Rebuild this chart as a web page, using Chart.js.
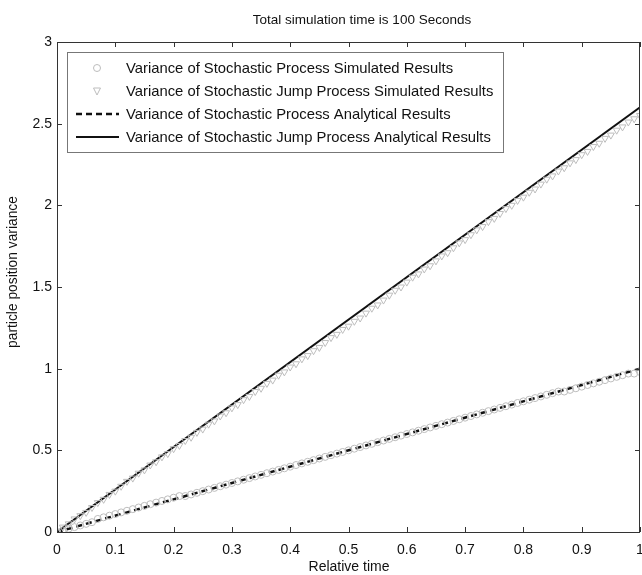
<!DOCTYPE html>
<html>
<head>
<meta charset="utf-8">
<script src="https://cdn.jsdelivr.net/npm/chart.js@4"></script>
<style>
  html, body { margin: 0; padding: 0; background: #fff; }
  #clip { width: 642px; height: 575px; overflow: hidden; }
  #wrap { width: 645px; height: 575px; position: relative; }
</style>
</head>
<body>
<div id="clip"><div id="wrap"><canvas id="simChart"></canvas></div></div>
<script>
// relative time of the simulated samples
let simTime = [
    0.00,0.01,0.02,0.03,0.04,0.05,0.06,0.07,0.08,0.09,
    0.10,0.11,0.12,0.13,0.14,0.15,0.16,0.17,0.18,0.19,
    0.20,0.21,0.22,0.23,0.24,0.25,0.26,0.27,0.28,0.29,
    0.30,0.31,0.32,0.33,0.34,0.35,0.36,0.37,0.38,0.39,
    0.40,0.41,0.42,0.43,0.44,0.45,0.46,0.47,0.48,0.49,
    0.50,0.51,0.52,0.53,0.54,0.55,0.56,0.57,0.58,0.59,
    0.60,0.61,0.62,0.63,0.64,0.65,0.66,0.67,0.68,0.69,
    0.70,0.71,0.72,0.73,0.74,0.75,0.76,0.77,0.78,0.79,
    0.80,0.81,0.82,0.83,0.84,0.85,0.86,0.87,0.88,0.89,
    0.90,0.91,0.92,0.93,0.94,0.95,0.96,0.97,0.98,0.99,
    1.00
]
// circles, near the dashed line
let stochSim = [
    0.00,0.01,0.02,0.03,0.04,0.05,0.06,0.08,0.09,0.10,
    0.11,0.12,0.13,0.14,0.15,0.16,0.17,0.18,0.19,0.20,
    0.21,0.22,0.22,0.23,0.24,0.25,0.26,0.27,0.28,0.29,
    0.30,0.31,0.32,0.33,0.34,0.35,0.36,0.37,0.38,0.39,
    0.40,0.41,0.42,0.43,0.44,0.45,0.46,0.47,0.48,0.49,
    0.50,0.51,0.52,0.53,0.54,0.55,0.56,0.57,0.58,0.59,
    0.60,0.61,0.62,0.63,0.64,0.65,0.66,0.67,0.68,0.69,
    0.70,0.71,0.72,0.73,0.74,0.75,0.76,0.77,0.78,0.79,
    0.80,0.81,0.82,0.83,0.84,0.85,0.86,0.86,0.87,0.88,
    0.89,0.90,0.91,0.92,0.93,0.94,0.95,0.96,0.97,0.97,
    0.98
]
// diamonds, near the solid line
let jumpSim = [
    0.00,0.03,0.05,0.08,0.10,0.12,0.15,0.18,0.20,0.23,
    0.25,0.28,0.31,0.33,0.36,0.38,0.41,0.43,0.46,0.48,
    0.51,0.53,0.56,0.58,0.61,0.63,0.66,0.68,0.71,0.73,
    0.76,0.78,0.81,0.83,0.86,0.88,0.91,0.93,0.96,0.98,
    1.01,1.03,1.06,1.08,1.11,1.13,1.16,1.19,1.21,1.24,
    1.26,1.29,1.31,1.34,1.37,1.39,1.42,1.45,1.48,1.50,
    1.53,1.56,1.58,1.61,1.63,1.66,1.69,1.71,1.74,1.77,
    1.79,1.82,1.85,1.87,1.90,1.92,1.95,1.98,2.00,2.03,
    2.05,2.08,2.10,2.13,2.16,2.18,2.21,2.23,2.26,2.28,
    2.31,2.33,2.36,2.38,2.41,2.43,2.46,2.48,2.51,2.53,
    2.55
]
// analytical results, end points
let lineTime      = [0, 1]
let stochAnalytic = [0, 1.0]
let jumpAnalytic  = [0, 2.6]

let legendLabels = [
    'Variance of Stochastic Process Simulated Results',
    'Variance of Stochastic Jump Process Simulated Results',
    'Variance of Stochastic Process Analytical Results',
    'Variance of Stochastic Jump Process Analytical Results'
]
let chartTitle = 'Total simulation time is 100 Seconds'
let xTitle = 'Relative time'
let yTitle = 'particle position variance'

const FONT = '"Liberation Sans", Arial, sans-serif';

function pairs(xs, ys){
    return xs.map((x, i) => ({x: x, y: ys[i]}));
}
function fmtTick(v){
    return String(+Number(v).toFixed(2));
}

// matlab-like frame, inward ticks, titles and boxed legend
const matlabFrame = {
    id: 'matlabFrame',
    afterDraw(chart){
        const ctx = chart.ctx;
        const a = chart.chartArea;
        const xs = chart.scales.x, ys = chart.scales.y;
        ctx.save();
        ctx.strokeStyle = '#333';
        ctx.lineWidth = 1;
        ctx.strokeRect(a.left + 0.5, a.top + 0.5, a.right - a.left - 1, a.bottom - a.top);
        ctx.beginPath();
        xs.ticks.forEach(t => {
            let px = Math.round(xs.getPixelForValue(t.value)) + 0.5;
            ctx.moveTo(px, a.bottom); ctx.lineTo(px, a.bottom - 5);
            ctx.moveTo(px, a.top); ctx.lineTo(px, a.top + 5);
        });
        ys.ticks.forEach(t => {
            let py = Math.round(ys.getPixelForValue(t.value)) + 0.5;
            ctx.moveTo(a.left, py); ctx.lineTo(a.left + 5, py);
            ctx.moveTo(a.right, py); ctx.lineTo(a.right - 5, py);
        });
        ctx.stroke();

        // title
        ctx.fillStyle = '#111';
        ctx.font = '13.5px ' + FONT;
        ctx.textAlign = 'center';
        ctx.textBaseline = 'middle';
        ctx.fillText(chartTitle, 362, 20);

        // y title
        ctx.save();
        ctx.translate(13, 272);
        ctx.rotate(-Math.PI / 2);
        ctx.font = '13.8px ' + FONT;
        ctx.fillText(yTitle, 0, 0);
        ctx.restore();

        // x title
        ctx.font = '14px ' + FONT;
        ctx.fillText(xTitle, 349, 567);

        // legend
        let bx = 67, by = 52, bw = 436, bh = 100;
        ctx.fillStyle = '#fff';
        ctx.fillRect(bx, by, bw, bh);
        ctx.strokeStyle = '#777';
        ctx.strokeRect(bx + 0.5, by + 0.5, bw, bh);
        ctx.font = '14.8px ' + FONT;
        ctx.textAlign = 'left';
        let rowY = [68, 91, 114, 137];
        chart.data.datasets.forEach((ds, i) => {
            let y = rowY[i];
            if(ds.showLine === false){
                ctx.strokeStyle = ds.borderColor;
                ctx.lineWidth = 1;
                ctx.beginPath();
                if(ds.pointStyle === 'circle'){
                    ctx.arc(97, y, 3.5, 0, Math.PI * 2);
                } else {
                    ctx.moveTo(93.5, y - 3); ctx.lineTo(100.5, y - 3); ctx.lineTo(97, y + 4); ctx.closePath();
                }
                ctx.stroke();
            } else {
                ctx.strokeStyle = ds.borderColor;
                ctx.lineWidth = ds.borderWidth;
                ctx.setLineDash(ds.borderDash || []);
                ctx.beginPath();
                ctx.moveTo(76, y); ctx.lineTo(119, y);
                ctx.stroke();
                ctx.setLineDash([]);
            }
            ctx.fillStyle = '#111';
            ctx.fillText(legendLabels[i], 126, y + 1);
        });
        ctx.restore();
    }
};

Chart.defaults.font.family = FONT;
Chart.defaults.color = '#111';

new Chart(document.getElementById('simChart'), {
    type: 'scatter',
    data: {
        datasets: [
            {
                label: legendLabels[0],
                data: pairs(simTime, stochSim),
                showLine: false,
                pointStyle: 'circle',
                pointRadius: 3.5,
                borderColor: '#bdbdbd',
                backgroundColor: 'rgba(0,0,0,0)',
                borderWidth: 1
            },
            {
                label: legendLabels[1],
                data: pairs(simTime, jumpSim),
                showLine: false,
                pointStyle: 'triangle',
                rotation: 180,
                pointRadius: 4,
                borderColor: '#bdbdbd',
                backgroundColor: 'rgba(0,0,0,0)',
                borderWidth: 1
            },
            {
                label: legendLabels[2],
                data: pairs(lineTime, stochAnalytic),
                showLine: true,
                pointRadius: 0,
                borderColor: '#111',
                borderWidth: 2.5,
                borderDash: [6, 4]
            },
            {
                label: legendLabels[3],
                data: pairs(lineTime, jumpAnalytic),
                showLine: true,
                pointRadius: 0,
                borderColor: '#111',
                borderWidth: 2
            }
        ]
    },
    options: {
        responsive: true,
        maintainAspectRatio: false,
        animation: false,
        layout: { padding: { top: 42, right: 0, left: 0, bottom: 0 } },
        plugins: {
            legend: { display: false },
            tooltip: { enabled: false }
        },
        scales: {
            x: {
                type: 'linear',
                min: 0, max: 1,
                ticks: { stepSize: 0.1, padding: 10, font: { size: 14 }, color: '#111', callback: fmtTick },
                grid: { display: true, drawOnChartArea: false, drawTicks: false },
                border: { display: false },
                afterFit: s => { s.height = 43; s.paddingLeft = 0; s.paddingRight = 0; }
            },
            y: {
                min: 0, max: 3,
                ticks: { stepSize: 0.5, padding: 5, font: { size: 14 }, color: '#111', callback: fmtTick },
                grid: { display: true, drawOnChartArea: false, drawTicks: false },
                border: { display: false },
                afterFit: s => { s.width = 57; s.paddingTop = 0; s.paddingBottom = 0; }
            }
        }
    },
    plugins: [matlabFrame]
});
</script>
</body>
</html>
